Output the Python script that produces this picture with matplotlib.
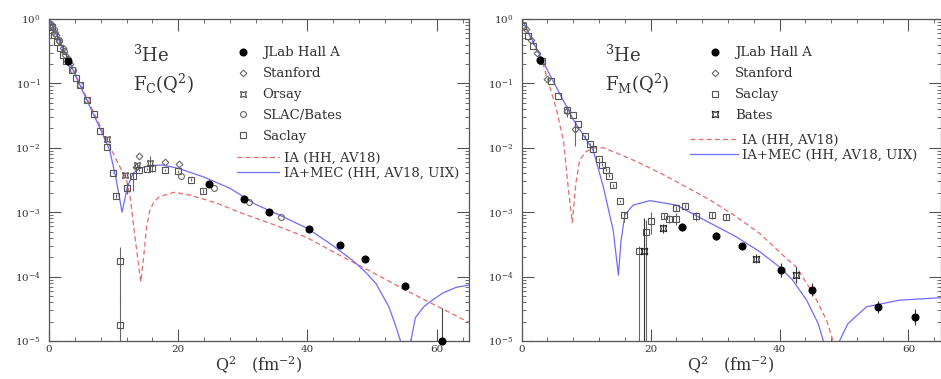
import matplotlib.pyplot as plt
import numpy as np
from matplotlib.ticker import MultipleLocator, LogLocator, NullFormatter

plt.rcParams['font.family'] = 'DejaVu Serif'
plt.rcParams['mathtext.fontset'] = 'dejavuserif'

RED = '#e86a6a'
BLUE = '#6f6cff'
INK = '#333333'
GRAY = '#666666'

# ---------------- charge form factor F_C ----------------
fc_ia_q2 = [0, 4, 8, 10, 11, 12, 12.6, 13.2, 13.7, 14.2, 14.6, 15.1, 15.6, 16.3, 17.1,
            19.4, 22, 26, 30, 35, 40, 45, 50, 55, 60, 65]
fc_ia = [1.0, 0.145, 0.021, 7.9e-3, 5.0e-3, 3.2e-3, 1.6e-3, 5.0e-4, 2.0e-4, 8.3e-5, 1.8e-4,
         5.9e-4, 1.07e-3, 1.48e-3, 1.74e-3, 2.04e-3, 1.82e-3, 1.38e-3, 9.5e-4, 6.3e-4,
         4.0e-4, 2.14e-4, 1.17e-4, 6.3e-5, 3.5e-5, 1.95e-5]

fc_mec_q2 = [0, 3, 6, 8, 9.4, 10.4, 11.3, 12.1, 13.0, 14.0, 15.5, 17.6, 20, 24, 28, 32, 36,
             40, 44, 47, 49, 50.6, 52.6, 53.6, 54.4, 55.2, 56.0, 56.7, 58, 59.3, 61, 63, 65]
fc_mec = [1.0, 0.23, 0.051, 0.019, 9.1e-3, 3.2e-3, 1.0e-3, 2.4e-3, 4.0e-3, 4.8e-3, 5.25e-3,
          5.4e-3, 4.8e-3, 3.5e-3, 2.35e-3, 1.32e-3, 8.7e-4, 5.6e-4, 3.0e-4, 1.78e-4, 1.17e-4,
          7.8e-5, 3.4e-5, 1.78e-5, 1.0e-5, 1e-6, 1.0e-5, 2.3e-5, 3.4e-5, 4.3e-5, 5.6e-5,
          6.8e-5, 7.4e-5]

fc_jlab_q2 = [3.0, 24.7, 30.1, 34.1, 40.2, 45.0, 48.9, 55.1, 60.75]
fc_jlab = [0.22, 2.7e-3, 1.6e-3, 9.9e-4, 5.4e-4, 3.1e-4, 1.85e-4, 7.1e-5, 1.0e-5]
fc_jlab_lo = [0.22, 2.6e-3, 1.55e-3, 9.6e-4, 5.2e-4, 3.0e-4, 1.78e-4, 6.8e-5, 1.0e-5]
fc_jlab_hi = [0.22, 2.8e-3, 1.65e-3, 1.02e-3, 5.6e-4, 3.2e-4, 1.92e-4, 7.4e-5, 3.2e-5]

fc_stan_q2 = [0.3, 0.7, 1.1, 1.6, 2.1, 2.5, 3.2, 13.5, 13.9, 17.9, 20.1]
fc_stan = [0.85, 0.69, 0.56, 0.45, 0.35, 0.28, 0.20, 5.1e-3, 7.4e-3, 6.0e-3, 5.6e-3]

fc_orsay_q2 = [8.9, 11.8, 13.6, 15.6]
fc_orsay = [1.38e-2, 3.8e-3, 5.4e-3, 5.75e-3]
fc_orsay_lo = [1.3e-2, 3.5e-3, 5.0e-3, 4.3e-3]
fc_orsay_hi = [1.45e-2, 4.1e-3, 5.8e-3, 7.5e-3]

fc_slac_q2 = [0.5, 1.0, 1.5, 2.3, 2.9, 3.7, 4.8, 5.9, 20.5, 25.6, 30.9, 35.9]
fc_slac = [0.78, 0.60, 0.47, 0.32, 0.24, 0.16, 0.093, 0.056, 3.6e-3, 2.35e-3, 1.45e-3, 8.5e-4]

fc_sac_q2 = [0.4, 0.8, 1.3, 1.7, 2.2, 2.7, 3.5, 4.2, 4.8, 5.9, 7.0, 7.9, 8.9, 9.9, 10.4, 11.0,
             11.0, 12.0, 13.0, 14.0, 15.1, 15.9, 18.0, 19.9, 21.9, 23.9]
fc_sac = [0.76, 0.56, 0.44, 0.35, 0.28, 0.22, 0.16, 0.12, 0.093, 0.056, 0.033, 0.018, 0.0102,
          4.1e-3, 1.78e-3, 1.74e-4, 1.74e-5, 2.35e-3, 3.7e-3, 4.5e-3, 4.7e-3, 4.9e-3, 4.5e-3,
          4.3e-3, 3.2e-3, 2.14e-3]
fc_sac_lo = [0.76, 0.56, 0.44, 0.35, 0.28, 0.22, 0.16, 0.12, 0.093, 0.056, 0.033, 0.018, 0.0102,
             4.0e-3, 1.65e-3, 4.4e-5, 4e-7, 1.9e-3, 2.1e-3, 4.3e-3, 4.5e-3, 4.2e-3, 4.3e-3,
             4.1e-3, 3.0e-3, 2.0e-3]
fc_sac_hi = [0.76, 0.56, 0.44, 0.35, 0.28, 0.22, 0.16, 0.12, 0.093, 0.056, 0.033, 0.018, 0.0102,
             4.2e-3, 1.9e-3, 2.9e-4, 4.7e-5, 2.8e-3, 4.0e-3, 4.7e-3, 4.9e-3, 5.6e-3, 4.7e-3,
             4.5e-3, 3.4e-3, 2.3e-3]

# ---------------- magnetic form factor F_M ----------------
fm_ia_q2 = [0, 3.35, 5.4, 6.5, 7.2, 7.85, 8.4, 9.0, 10.0, 11.1, 12.65, 15, 18, 21.4, 24.5,
            29.2, 33, 36.9, 41.3, 42.6, 45.2, 47.3, 48.3, 49.0]
fm_ia = [1.0, 0.195, 0.039, 0.0126, 2.5e-3, 6.9e-4, 2.8e-3, 6.5e-3, 8.7e-3, 1.0e-2, 1.0e-2,
         8.1e-3, 6.0e-3, 4.1e-3, 2.8e-3, 1.55e-3, 8.9e-4, 4.7e-4, 1.82e-4, 1.41e-4, 5.5e-5,
         2.1e-5, 1.0e-5, 1e-6]

fm_mec_q2 = [0, 4, 8, 11.1, 12.65, 14.2, 15.0, 15.4, 16.0, 17.3, 19.9, 24, 29.2, 33, 36.9,
             40, 42, 44.2, 46.0, 46.8, 47.9, 49.3, 50.6, 53.5, 58.6, 65]
fm_mec = [1.0, 0.16, 0.0275, 9.1e-3, 2.5e-3, 5.2e-4, 1.05e-4, 3.5e-4, 9.1e-4, 1.29e-3,
          1.51e-3, 1.29e-3, 6.8e-4, 4.3e-4, 2.45e-4, 1.41e-4, 8.9e-5, 4.3e-5, 1.86e-5,
          1.0e-5, 1e-6, 1.0e-5, 1.86e-5, 3.4e-5, 4.3e-5, 4.7e-5]

fm_jlab_q2 = [2.9, 24.8, 30.2, 34.1, 40.2, 45.1, 55.2, 61.0]
fm_jlab = [0.23, 5.9e-4, 4.3e-4, 3.0e-4, 1.26e-4, 6.3e-5, 3.4e-5, 2.35e-5]
fm_jlab_lo = [0.23, 5.1e-4, 3.7e-4, 2.7e-4, 1.0e-4, 5.0e-5, 2.75e-5, 1.8e-5]
fm_jlab_hi = [0.23, 6.8e-4, 5.0e-4, 3.3e-4, 1.6e-4, 8.0e-5, 4.2e-5, 3.1e-5]

fm_stan_q2 = [0.6, 1.5, 2.4, 4.0, 7.0, 8.2]
fm_stan = [0.71, 0.47, 0.30, 0.115, 0.037, 0.0195]
fm_stan_lo = [0.71, 0.47, 0.30, 0.115, 0.030, 0.0105]
fm_stan_hi = [0.71, 0.47, 0.30, 0.115, 0.045, 0.025]

fm_sac_q2 = [0.25, 1.0, 1.8, 3.1, 4.5, 5.7, 7.1, 8.0, 8.8, 9.8, 10.6, 11.1, 12.0, 12.4, 13.1,
             13.6, 14.2, 15.2, 15.9, 18.2, 19.3, 20.0, 22.1, 22.9, 24.0, 24.0, 25.4, 27.1,
             29.5, 31.7]
fm_sac = [0.78, 0.54, 0.38, 0.22, 0.107, 0.063, 0.039, 0.032, 0.023, 0.015, 0.0115, 9.5e-3,
          6.6e-3, 5.5e-3, 4.6e-3, 3.7e-3, 2.6e-3, 1.51e-3, 8.9e-4, 2.5e-4, 5.0e-4, 7.2e-4,
          8.7e-4, 7.9e-4, 1.15e-3, 7.9e-4, 1.26e-3, 8.7e-4, 8.9e-4, 8.5e-4]
fm_sac_lo = [0.78, 0.54, 0.38, 0.22, 0.107, 0.063, 0.039, 0.032, 0.023, 0.014, 0.011, 9.0e-3,
             6.3e-3, 5.2e-3, 4.4e-3, 3.5e-3, 2.5e-3, 1.45e-3, 7.1e-4, 1e-6, 1e-6, 4.6e-4,
             7.7e-4, 6.7e-4, 1.05e-3, 6.4e-4, 1.18e-3, 7.4e-4, 7.7e-4, 7.6e-4]
fm_sac_hi = [0.78, 0.54, 0.38, 0.22, 0.107, 0.063, 0.039, 0.032, 0.023, 0.016, 0.012, 1.0e-2,
             6.9e-3, 5.8e-3, 4.8e-3, 3.9e-3, 2.7e-3, 1.57e-3, 1.0e-3, 3.0e-4, 7.6e-4, 1.0e-3,
             9.8e-4, 9.2e-4, 1.25e-3, 9.6e-4, 1.34e-3, 1.0e-3, 1.0e-3, 9.5e-4]

fm_bates_q2 = [18.9, 21.9, 36.4, 42.6]
fm_bates = [2.5e-4, 5.6e-4, 1.9e-4, 1.05e-4]
fm_bates_lo = [1e-6, 4.8e-4, 1.6e-4, 8.0e-5]
fm_bates_hi = [8.0e-4, 6.5e-4, 2.25e-4, 1.4e-4]

STAR4 = (4, 1, 45)


def err(v, lo, hi):
    v = np.array(v)
    return [v - np.array(lo), np.array(hi) - v]


def style(ax):
    ax.set_yscale('log')
    ax.set_xlim(0, 65)
    ax.set_ylim(1e-5, 1)
    ax.xaxis.set_major_locator(MultipleLocator(20))
    ax.xaxis.set_minor_locator(MultipleLocator(4))
    ax.yaxis.set_major_locator(LogLocator(base=10, numticks=10))
    ax.yaxis.set_minor_locator(LogLocator(base=10, subs=np.arange(2, 10), numticks=10))
    ax.yaxis.set_minor_formatter(NullFormatter())
    ax.tick_params(which='both', direction='in', top=True, right=True,
                   colors='#555555', labelcolor=INK, labelsize=7.5)
    ax.tick_params(which='major', length=8.5, width=0.8)
    ax.tick_params(which='minor', length=3.2, width=0.6)
    ax.tick_params(axis='y', pad=6)
    ax.tick_params(axis='x', pad=3)
    for s in ax.spines.values():
        s.set_color('#555555')
        s.set_linewidth(0.9)
    ax.set_xlabel(r'Q$^2$   (fm$^{-2}$)', fontsize=11.5, color=INK, labelpad=0)


fig = plt.figure(figsize=(9.41, 3.79), dpi=100)
axL = fig.add_axes([0.0521, 0.1003, 0.4463, 0.8496])
axR = fig.add_axes([0.5544, 0.1003, 0.4453, 0.8496])

ebkw = dict(elinewidth=0.8, capsize=0, linestyle='none', ecolor=GRAY, zorder=3)

# ---- left panel ----
ia_l, = axL.plot(fc_ia_q2, fc_ia, color=RED, lw=0.9, ls=(0, (4, 2.5)), zorder=2)
mec_l, = axL.plot(fc_mec_q2, fc_mec, color=BLUE, lw=0.9, zorder=2)
sa = axL.errorbar(fc_sac_q2, fc_sac, yerr=err(fc_sac, fc_sac_lo, fc_sac_hi), marker='s', ms=4.2,
                  mfc='none', mec='#555555', mew=0.8, **ebkw)
sl = axL.errorbar(fc_slac_q2, fc_slac, marker='o', ms=4.2, mfc='none', mec=GRAY, mew=0.8, **ebkw)
st = axL.errorbar(fc_stan_q2, fc_stan, marker='D', ms=3.4, mfc='none', mec=GRAY, mew=0.8, **ebkw)
ors = axL.errorbar(fc_orsay_q2, fc_orsay, yerr=err(fc_orsay, fc_orsay_lo, fc_orsay_hi),
                   marker=STAR4, ms=6, mfc='none', mec='#444444', mew=0.8, **ebkw)
jl = axL.errorbar(fc_jlab_q2, fc_jlab, yerr=err(fc_jlab, fc_jlab_lo, fc_jlab_hi), marker='o',
                  linestyle='none', ms=4.8, mfc='black', mec='black', elinewidth=0.8, capsize=0,
                  ecolor='#444444', zorder=4)
for a in jl.lines[2]:
    a.set_clip_on(False)
jl[0].set_clip_on(False)

axL.text(0.2, 0.866, r'$^{3}$He', transform=axL.transAxes, fontsize=13, color=INK)
axL.text(0.2, 0.777, r'F$_{\rm C}$(Q$^{2}$)', transform=axL.transAxes, fontsize=13, color=INK)

leg1 = axL.legend([jl[0], st[0], ors[0], sl[0], sa[0]],
                  ['JLab Hall A', 'Stanford', 'Orsay', 'SLAC/Bates', 'Saclay'],
                  loc='upper left', bbox_to_anchor=(0.446, 0.915), frameon=False,
                  fontsize=9.5, handlelength=1.0, handletextpad=1.0, labelspacing=0.6,
                  borderpad=0, borderaxespad=0, labelcolor=INK)
axL.add_artist(leg1)
axL.legend([ia_l, mec_l], ['IA (HH, AV18)', 'IA+MEC (HH, AV18, UIX)'], loc='upper left',
           bbox_to_anchor=(0.447, 0.587), frameon=False, fontsize=9.5, handlelength=3.2,
           handletextpad=0.35, labelspacing=0.15, borderpad=0, borderaxespad=0,
           labelcolor=INK)
style(axL)

# ---- right panel ----
ia_r, = axR.plot(fm_ia_q2, fm_ia, color=RED, lw=0.9, ls=(0, (4, 2.5)), zorder=2)
mec_r, = axR.plot(fm_mec_q2, fm_mec, color=BLUE, lw=0.9, zorder=2)
sa_r = axR.errorbar(fm_sac_q2, fm_sac, yerr=err(fm_sac, fm_sac_lo, fm_sac_hi), marker='s',
                    ms=4.2, mfc='none', mec='#555555', mew=0.8, **ebkw)
st_r = axR.errorbar(fm_stan_q2, fm_stan, yerr=err(fm_stan, fm_stan_lo, fm_stan_hi), marker='D',
                    ms=3.4, mfc='none', mec=GRAY, mew=0.8, **ebkw)
bt_r = axR.errorbar(fm_bates_q2, fm_bates, yerr=err(fm_bates, fm_bates_lo, fm_bates_hi),
                    marker=STAR4, linestyle='none', ms=6.5, mfc='none', mec='#222222', mew=0.9,
                    elinewidth=0.8, capsize=0, ecolor='#333333', zorder=4)
jl_r = axR.errorbar(fm_jlab_q2, fm_jlab, yerr=err(fm_jlab, fm_jlab_lo, fm_jlab_hi), marker='o',
                    linestyle='none', ms=4.8, mfc='black', mec='black', elinewidth=0.8,
                    capsize=0, ecolor='#333333', zorder=4)

axR.text(0.2, 0.866, r'$^{3}$He', transform=axR.transAxes, fontsize=13, color=INK)
axR.text(0.2, 0.777, r'F$_{\rm M}$(Q$^{2}$)', transform=axR.transAxes, fontsize=13, color=INK)

leg3 = axR.legend([jl_r[0], st_r[0], sa_r[0], bt_r[0]],
                  ['JLab Hall A', 'Stanford', 'Saclay', 'Bates'],
                  loc='upper left', bbox_to_anchor=(0.446, 0.915), frameon=False,
                  fontsize=9.5, handlelength=1.0, handletextpad=1.0, labelspacing=0.6,
                  borderpad=0, borderaxespad=0, labelcolor=INK)
axR.add_artist(leg3)
axR.legend([ia_r, mec_r], ['IA (HH, AV18)', 'IA+MEC (HH, AV18, UIX)'], loc='upper left',
           bbox_to_anchor=(0.402, 0.645), frameon=False, fontsize=9.5, handlelength=3.6,
           handletextpad=0.35, labelspacing=0.15, borderpad=0, borderaxespad=0,
           labelcolor=INK)
style(axR)

fig.savefig('out.png', dpi=100)
